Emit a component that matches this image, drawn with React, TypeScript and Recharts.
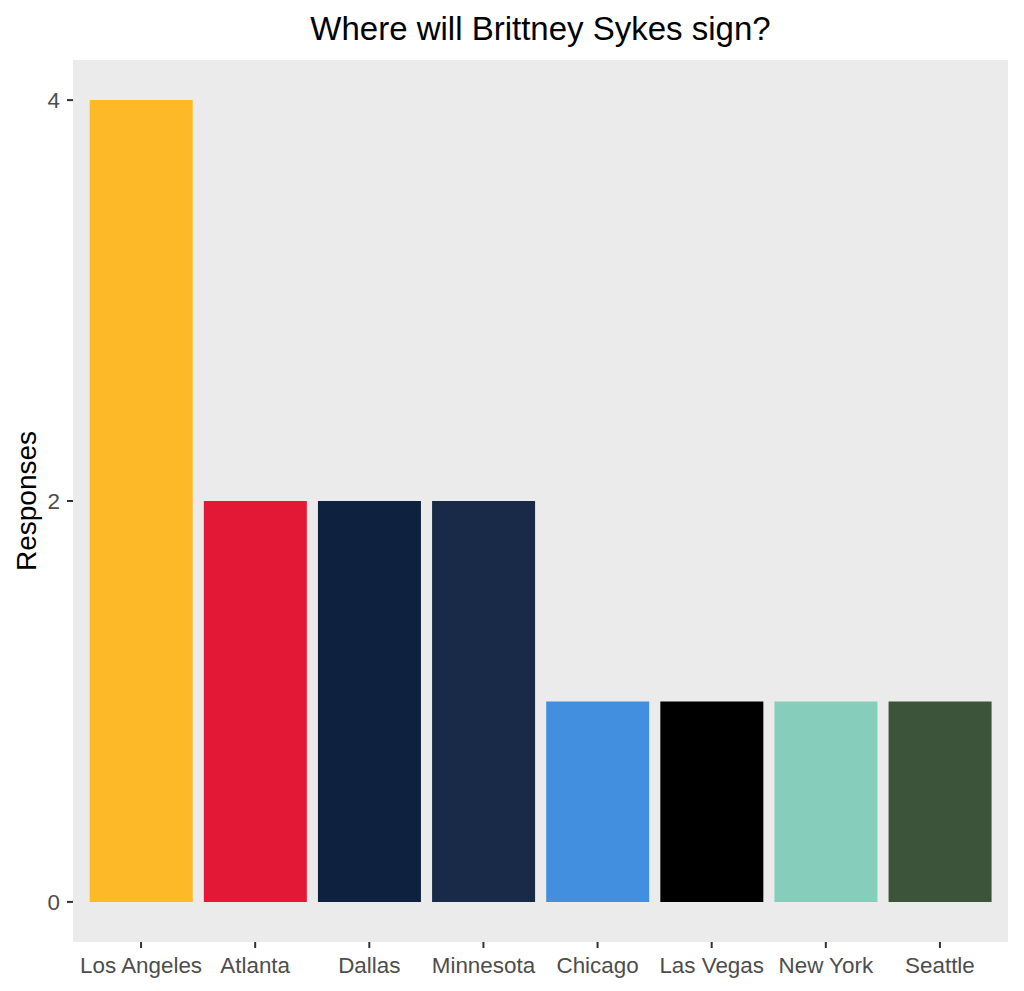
import { BarChart, Bar, Cell, XAxis, YAxis, CartesianGrid, Label } from "recharts";

const teams = [
  "Los Angeles",
  "Atlanta",
  "Dallas",
  "Minnesota",
  "Chicago",
  "Las Vegas",
  "New York",
  "Seattle",
];

const responses = [4, 2, 2, 2, 1, 1, 1, 1];

const teamColors = [
  "#FDB927",
  "#E31837",
  "#0E2240",
  "#182A47",
  "#418FDE",
  "#000000",
  "#86CEBB",
  "#3C5439",
];

const yTicks = [0, 2, 4];

const data = teams.map((team, i) => ({ team, responses: responses[i] }));

const FONT = "'Liberation Sans', Arial, sans-serif";

export default function App() {
  return (
    <div
      style={{
        position: "absolute",
        left: 0,
        top: 0,
        width: 1024,
        height: 991,
        background: "#fff",
        fontFamily: FONT,
      }}
    >
      <div
        style={{
          position: "absolute",
          left: 73,
          top: 10,
          width: 935,
          textAlign: "center",
          fontSize: 33,
          lineHeight: "38px",
          color: "#000",
        }}
      >
        Where will Brittney Sykes sign?
      </div>
      <BarChart
        width={1024}
        height={991}
        data={data}
        margin={{ top: 60, right: 16, left: 0, bottom: 0 }}
        barCategoryGap="5%"
      >
        <CartesianGrid fill="#EBEBEB" horizontal={false} vertical={false} stroke="none" />
        <XAxis
          dataKey="team"
          height={49}
          padding={{ left: 11, right: 11 }}
          axisLine={false}
          tickSize={6}
          tickMargin={9}
          tickLine={{ stroke: "#333333", strokeWidth: 2 }}
          tick={{ fill: "#4D4D4D", fontSize: 22.4, fontFamily: FONT }}
          interval={0}
        />
        <YAxis
          type="number"
          domain={[-0.2, 4.2]}
          ticks={yTicks}
          width={73}
          axisLine={false}
          tickSize={6}
          tickMargin={7}
          tickLine={{ stroke: "#333333", strokeWidth: 2 }}
          tick={{ fill: "#4D4D4D", fontSize: 22.4, fontFamily: FONT }}
        >
          <Label
            value="Responses"
            angle={-90}
            position="insideLeft"
            offset={26}
            style={{ textAnchor: "middle", fontSize: 28, fill: "#000", fontFamily: FONT }}
          />
        </YAxis>
        <Bar dataKey="responses" isAnimationActive={false}>
          {data.map((_, i) => (
            <Cell key={i} fill={teamColors[i]} />
          ))}
        </Bar>
      </BarChart>
    </div>
  );
}
